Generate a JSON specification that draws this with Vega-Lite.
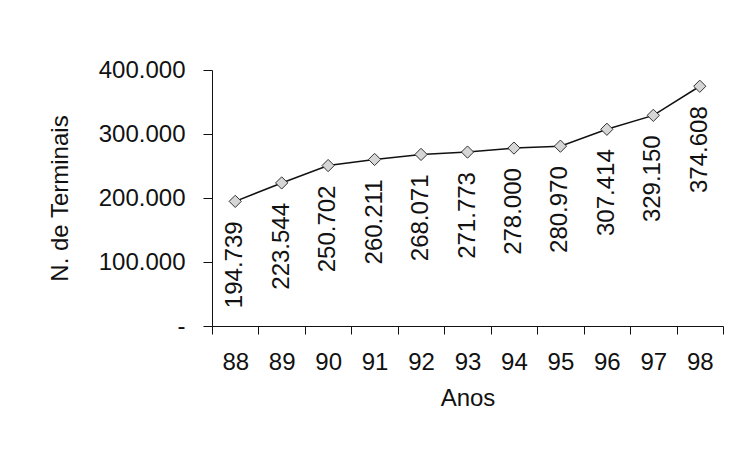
{
  "$schema": "https://vega.github.io/schema/vega-lite/v6.json",
  "autosize": {"type": "none"},
  "width": 511,
  "height": 256,
  "padding": {"left": 212, "top": 70, "right": 15, "bottom": 146},
  "background": "white",
  "config": {
    "locale": {"number": {"decimal": ",", "thousands": ".", "grouping": [3], "currency": ["", ""]}},
    "font": "Liberation Sans",
    "view": {"stroke": null},
    "axis": {"domainColor": "#111", "tickColor": "#111", "labelColor": "#111", "titleColor": "#111", "grid": false, "labelFont": "Liberation Sans", "titleFont": "Liberation Sans", "labelFontSize": 24, "titleFontSize": 24, "titleFontWeight": "normal"}
  },
  "data": {"values": [
    {"ano": "88", "terminais": 194739},
    {"ano": "89", "terminais": 223544},
    {"ano": "90", "terminais": 250702},
    {"ano": "91", "terminais": 260211},
    {"ano": "92", "terminais": 268071},
    {"ano": "93", "terminais": 271773},
    {"ano": "94", "terminais": 278000},
    {"ano": "95", "terminais": 280970},
    {"ano": "96", "terminais": 307414},
    {"ano": "97", "terminais": 329150},
    {"ano": "98", "terminais": 374608}
  ]},
  "encoding": {
    "x": {"field": "ano", "type": "ordinal", "scale": {"type": "band", "paddingInner": 0, "paddingOuter": 0},
      "axis": {"title": "Anos", "labelAngle": 0, "tickBand": "extent", "tickSize": 8, "labelPadding": 16, "titlePadding": 12}},
    "y": {"field": "terminais", "type": "quantitative", "scale": {"domain": [0, 400000], "nice": false},
      "axis": {"title": "N. de Terminais", "values": [0, 100000, 200000, 300000, 400000], "format": ",.0f", "labelExpr": "datum.value === 0 ? '-' : datum.label", "tickSize": 9, "labelPadding": 18, "titlePadding": 26}}
  },
  "layer": [
    {"mark": {"type": "line", "color": "#111", "strokeWidth": 1.5}},
    {"mark": {"type": "point", "shape": "diamond", "size": 150, "filled": true, "fill": "#d6d6d6", "stroke": "#333", "strokeWidth": 1, "opacity": 1}},
    {"mark": {"type": "text", "angle": 270, "align": "right", "baseline": "middle", "dx": -20, "fontSize": 24, "font": "Liberation Sans", "color": "#111"},
      "encoding": {"text": {"field": "terminais", "type": "quantitative", "format": ",.0f"}}}
  ]
}
